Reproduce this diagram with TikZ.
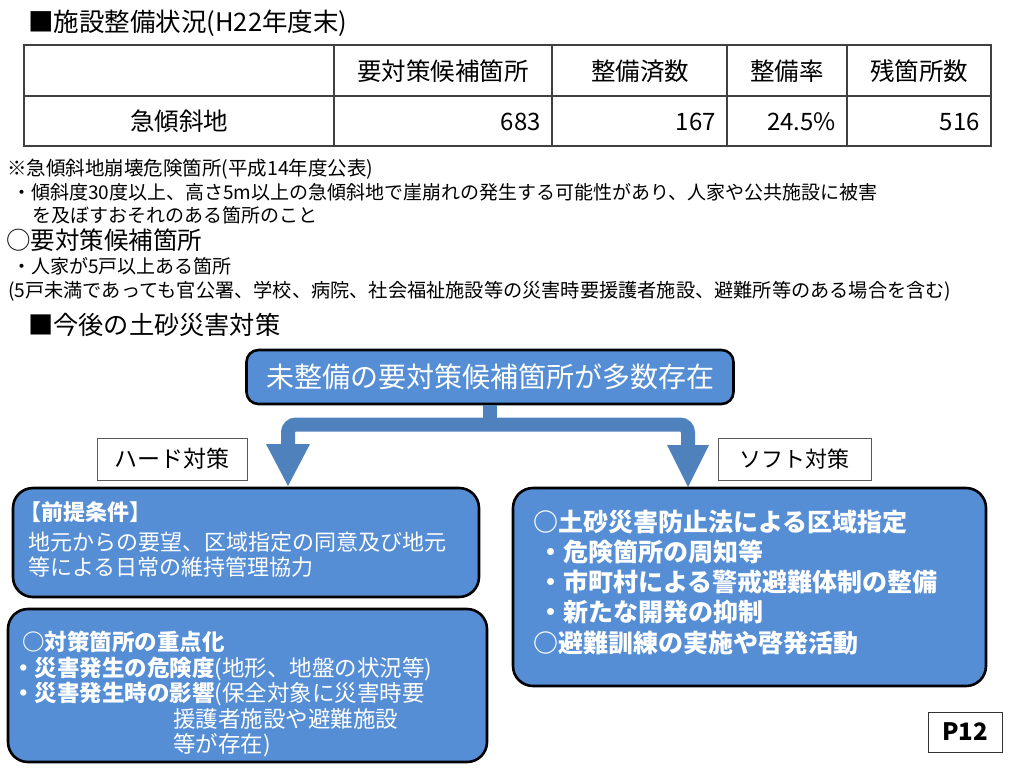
\documentclass[tikz,border=0pt]{standalone}
\usepackage{fontspec}
\setmainfont{Noto Sans CJK JP}
\definecolor{boxblue}{RGB}{85,142,213}
\definecolor{arrblue}{RGB}{79,129,189}
\definecolor{tgray}{RGB}{64,64,64}
\begin{document}
\begin{tikzpicture}[x=1pt,y=-1pt,
  ln/.style={anchor=base west, inner sep=0pt},
  cn/.style={anchor=base, inner sep=0pt},
  rn/.style={anchor=base east, inner sep=0pt},
  fs/.style={font=\fontsize{#1}{#1}\selectfont},
  tline/.style={draw=tgray, line width=1.4pt},
  bluebox/.style={draw=black, line width=2.6pt, fill=boxblue, rounded corners=20pt, inner sep=0pt},
  labelbox/.style={draw=black!65, line width=1pt, fill=white, inner sep=0pt},
  shaft/.style={draw=arrblue, line width=14pt},
  head/.style={fill=arrblue},
  wt/.style={text=white}
]
\useasboundingbox (0,0) rectangle (1024,768);

% title
\node[ln, fs=25.5] (t1) at (28,31.5) {■施設整備状況(H22年度末)};

% table
\draw[tline] (24,45) rectangle (991,146);
\draw[tline] (24,96) -- (991,96);
\foreach \x in {334,552,727,847} \draw[tline] (\x,45) -- (\x,146);
\node[cn, fs=24.5] (h1) at (443,80.3) {要対策候補箇所};
\node[cn, fs=24.5] (h2) at (640,80.3) {整備済数};
\node[cn, fs=24.5] (h3) at (787,80.3) {整備率};
\node[cn, fs=24.5] (h4) at (919,80.3) {残箇所数};
\node[cn, fs=24.5] (r0) at (179,130.3) {急傾斜地};
\node[rn, fs=24] (r1) at (541,130.3) {683};
\node[rn, fs=24] (r2) at (716,130.3) {167};
\node[rn, fs=24] (r3) at (836,130.3) {24.5\%};
\node[rn, fs=24] (r4) at (980,130.3) {516};

% notes
\node[ln, fs=19.5] (n1) at (7,175.5) {※急傾斜地崩壊危険箇所(平成14年度公表)};
\node[ln, fs=19] (n2) at (12,199.2) {・傾斜度30度以上、高さ5m以上の急傾斜地で崖崩れの発生する可能性があり、人家や公共施設に被害};
\node[ln, fs=19] (n3) at (32,222.2) {を及ぼすおそれのある箇所のこと};
\node[ln, fs=24.5] (n4) at (6,249.3) {○要対策候補箇所};
\node[ln, fs=19] (n5) at (12,273.2) {・人家が5戸以上ある箇所};
\node[ln, fs=19.2] (n6) at (8,297.3) {(5戸未満であっても官公署、学校、病院、社会福祉施設等の災害時要援護者施設、避難所等のある場合を含む)};

% section title
\node[ln, fs=25.2] (t2) at (28,334.6) {■今後の土砂災害対策};

% top box
\node[bluebox, rounded corners=12pt, minimum width=487pt, minimum height=54pt, fs=28, wt] (top) at (490,377) {未整備の要対策候補箇所が多数存在};

% arrows
\coordinate (split) at (490,424.5);
\coordinate (hbase) at (288,446);
\coordinate (htip) at (288,486);
\coordinate (sbase) at (688,447);
\coordinate (stip) at (688,487);
\draw[shaft] (top.south) -- (split);
\draw[shaft, rounded corners=8pt] (split) -| (hbase);
\draw[shaft, rounded corners=8pt] (split) -| (sbase);
\fill[head] (htip) -- ++(-22,-42) -- ++(44,0) -- cycle;
\fill[head] (stip) -- ++(-21,-42) -- ++(42,0) -- cycle;

% labels
\node[labelbox, minimum width=150pt, minimum height=42pt, fs=23] (hard) at (172,459) {ハード対策};
\node[labelbox, minimum width=153pt, minimum height=42pt, fs=22] (soft) at (794.5,459) {ソフト対策};

% hard box 1
\node[bluebox, minimum width=466pt, minimum height=109pt] (hb1) at (246,542.5) {};
\node[ln, fs=22, wt] (hb1a) at (19,520.4) {\bfseries 【前提条件】};
\node[ln, fs=22, wt] (hb1b) at (28,550.4) {地元からの要望、区域指定の同意及び地元};
\node[ln, fs=22, wt] (hb1c) at (28,575.4) {等による日常の維持管理協力};

% hard box 2
\node[bluebox, minimum width=479pt, minimum height=153pt] (hb2) at (247.5,685.5) {};
\node[ln, fs=22.5, wt] (hb2a) at (22,650.6) {\bfseries ○対策箇所の重点化};
\node[ln, fs=22.5, wt] (hb2b) at (12,676.6) {\textbf{・災害発生の危険度}(地形、地盤の状況等)};
\node[ln, fs=22.5, wt] (hb2c) at (12,701.6) {\textbf{・災害発生時の影響}(保全対象に災害時要};
\node[ln, fs=22.5, wt] (hb2d) at (173,727.6) {援護者施設や避難施設};
\node[ln, fs=22.5, wt] (hb2e) at (173,752.6) {等が存在)};

% soft box
\node[bluebox, minimum width=473pt, minimum height=198pt] (sb) at (749.5,587) {};
\node[ln, fs=25, wt] (sba) at (533,531.5) {\bfseries ○土砂災害防止法による区域指定};
\node[ln, fs=25, wt] (sbb) at (538,561.5) {\bfseries ・危険箇所の周知等};
\node[ln, fs=25, wt] (sbc) at (538,591.5) {\bfseries ・市町村による警戒避難体制の整備};
\node[ln, fs=25, wt] (sbd) at (538,621.5) {\bfseries ・新たな開発の抑制};
\node[ln, fs=25, wt] (sbe) at (533,652.5) {\bfseries ○避難訓練の実施や啓発活動};

% page label
\node[labelbox, draw=black!80, minimum width=74pt, minimum height=40pt, fs=24] (pg) at (965,732) {\bfseries P12};
\end{tikzpicture}
\end{document}
